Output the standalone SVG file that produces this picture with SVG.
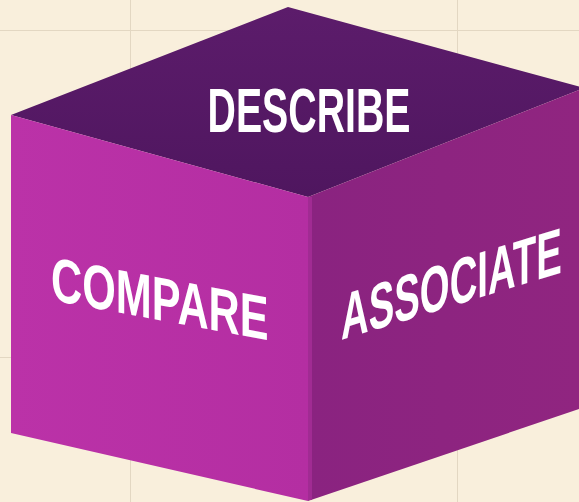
<svg xmlns="http://www.w3.org/2000/svg" width="579" height="502" viewBox="0 0 579 502">
  <defs>
    <linearGradient id="topShade" x1="0" y1="0" x2="0" y2="1">
      <stop offset="0" stop-color="#5c1c6b"/>
      <stop offset="1" stop-color="#4f165f"/>
    </linearGradient>
    <linearGradient id="leftShade" x1="0" y1="0" x2="1" y2="0">
      <stop offset="0" stop-color="#bb32a8"/>
      <stop offset="1" stop-color="#b42ea2"/>
    </linearGradient>
    <linearGradient id="rightShade" x1="0" y1="0" x2="1" y2="0">
      <stop offset="0" stop-color="#8a2380"/>
      <stop offset="1" stop-color="#902580"/>
    </linearGradient>
  </defs>
  <style>
    .grid { stroke: #e3d7c2; stroke-width: 1; fill: none; }
    .label { fill: #ffffff; font-family: "Liberation Sans", Arial, sans-serif; font-weight: bold; }
  </style>

  <!-- paper background with faint grid -->
  <rect x="0" y="0" width="579" height="502" fill="#f9efdc"/>
  <g id="grid">
    <line class="grid" x1="130.5" y1="0" x2="130.5" y2="502"/>
    <line class="grid" x1="457.5" y1="0" x2="457.5" y2="502"/>
    <line class="grid" x1="0" y1="30.5" x2="579" y2="30.5"/>
    <line class="grid" x1="0" y1="357.5" x2="579" y2="357.5"/>
  </g>

  <!-- cube faces; labels are narrowed with a horizontal scale -->
  <g id="face-top">
    <polygon points="11,115 288,7 579,86.6 579,90 308,197" fill="url(#topShade)"/>
    <text class="label" transform="translate(309,132) scale(0.6236,1)" x="0" y="0" font-size="63" text-anchor="middle">DESCRIBE</text>
  </g>

  <g id="face-left">
    <polygon points="11,115 308,197 308,501 11,433" fill="url(#leftShade)"/>
    <text class="label" transform="translate(51,300) skewY(10.5) scale(0.697,1)" x="0" y="0" font-size="62">COMPARE</text>
  </g>

  <g id="face-right">
    <polygon points="308,197 579,90 579,409 308,501" fill="url(#rightShade)"/>
    <line x1="310" y1="197" x2="310" y2="500" stroke="#a12b93" stroke-width="4"/>
    <text class="label" transform="translate(341,340) skewY(-17) scale(0.59,1)" x="0" y="0" font-size="65">ASSOCIATE</text>
  </g>
</svg>
